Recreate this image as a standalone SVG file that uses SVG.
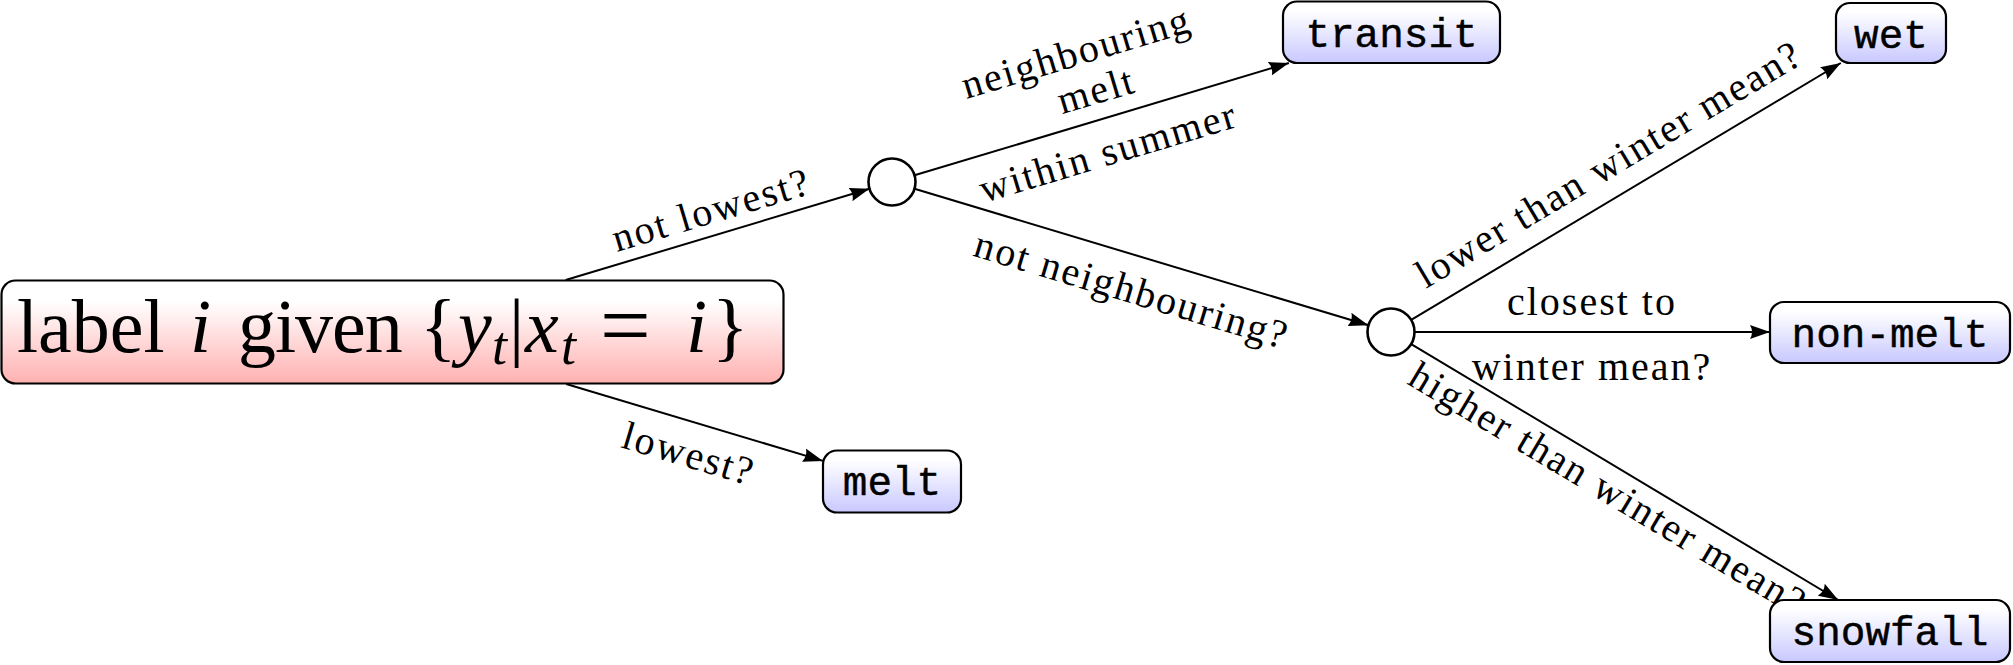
<svg xmlns="http://www.w3.org/2000/svg" width="2013" height="665" viewBox="0 0 2013 665">
<defs>
<linearGradient id="gRed" x1="0" y1="0" x2="0" y2="1">
<stop offset="0.2" stop-color="#ffffff"/>
<stop offset="1" stop-color="#ffb0b0"/>
</linearGradient>
<linearGradient id="gBlue" x1="0" y1="0" x2="0" y2="1">
<stop offset="0.15" stop-color="#ffffff"/>
<stop offset="1" stop-color="#c8c8ff"/>
</linearGradient>
<marker id="arr" viewBox="0 0 20 14" refX="20" refY="7" markerWidth="20" markerHeight="14" markerUnits="userSpaceOnUse" orient="auto">
<path d="M0,0 Q4,7 0,14 L20,7 Z" fill="#000"/>
</marker>
</defs>
<style>
.box{stroke:#000;stroke-width:2.2}
.leaf{fill:url(#gBlue)}
.mono{font-family:"Liberation Mono",monospace;font-size:41px;fill:#000;stroke:#000;stroke-width:0.45;text-anchor:middle}
.lbl{font-family:"Liberation Serif",serif;font-size:40px;fill:#000;text-anchor:middle;letter-spacing:2px}
.edge{stroke:#000;stroke-width:2;fill:none;marker-end:url(#arr)}
.circ{fill:#fff;stroke:#000;stroke-width:2.6}
.big{font-family:"Liberation Serif",serif;font-size:76px;fill:#000}
</style>
<g id="connectors">
<line class="edge" x1="565.7" y1="280" x2="869.5" y2="188.8"/>
<line class="edge" x1="566.2" y1="384" x2="823" y2="460.9"/>
<line class="edge" x1="914.5" y1="175.3" x2="1288.9" y2="63"/>
<line class="edge" x1="914.5" y1="188.8" x2="1368.5" y2="325.2"/>
<line class="edge" x1="1411.2" y1="319.9" x2="1840.8" y2="63"/>
<line class="edge" x1="1414.5" y1="332" x2="1770" y2="332"/>
<line class="edge" x1="1411.2" y1="344.1" x2="1838.3" y2="600"/>
</g>
<g id="edge-labels">
<text class="lbl" transform="translate(715,222.5) rotate(-16.71)">not lowest?</text>
<text class="lbl" transform="translate(685,466.5) rotate(16.66)">lowest?</text>
<text class="lbl" transform="translate(1080,65) rotate(-16.69)">neighbouring</text>
<text class="lbl" transform="translate(1100,103) rotate(-16.69)">melt</text>
<text class="lbl" transform="translate(1112,164.5) rotate(-16.69)">within summer</text>
<text class="lbl" transform="translate(1128,302.5) rotate(16.73)">not neighbouring?</text>
<text class="lbl" transform="translate(1615.6,175.4) rotate(-30.88)">lower than winter mean?</text>
<text class="lbl" x="1592" y="315">closest to</text>
<text class="lbl" x="1592" y="380">winter mean?</text>
<text class="lbl" transform="translate(1601.3,500.4) rotate(30.93)">higher than winter mean?</text>
</g>
<g id="root">
<rect class="box" x="1.5" y="280.5" width="782" height="103" rx="14" fill="url(#gRed)"/>
<text class="big" y="352"><tspan x="17">label</tspan><tspan x="190" font-style="italic">i</tspan><tspan x="238" letter-spacing="-1">given</tspan><tspan x="420">{</tspan><tspan x="458" font-style="italic">y</tspan><tspan x="492" y="364" font-style="italic" font-size="54">t</tspan><tspan x="509" y="352">|</tspan><tspan x="525" font-style="italic">x</tspan><tspan x="561" y="364" font-style="italic" font-size="54">t</tspan><tspan x="600" y="356" font-size="90">=</tspan><tspan x="686" y="352" font-style="italic">i</tspan><tspan x="712">}</tspan></text>
</g>
<g id="decision1">
<circle class="circ" cx="892" cy="182" r="23.5"/>
</g>
<g id="decision2">
<circle class="circ" cx="1391" cy="332" r="23.5"/>
</g>
<g id="melt">
<rect class="box leaf" x="823" y="450.5" width="138" height="62" rx="14"/>
<text class="mono" x="892" y="495">melt</text>
</g>
<g id="transit">
<rect class="box leaf" x="1283" y="1.5" width="217" height="61.5" rx="14"/>
<text class="mono" x="1391.5" y="47">transit</text>
</g>
<g id="wet">
<rect class="box leaf" x="1836" y="3" width="110" height="60" rx="14"/>
<text class="mono" x="1891" y="47.5">wet</text>
</g>
<g id="non-melt">
<rect class="box leaf" x="1770" y="302" width="240" height="61" rx="14"/>
<text class="mono" x="1890" y="347">non-melt</text>
</g>
<g id="snowfall">
<rect class="box leaf" x="1770" y="600" width="240" height="62" rx="14"/>
<text class="mono" x="1890" y="645">snowfall</text>
</g>
</svg>
